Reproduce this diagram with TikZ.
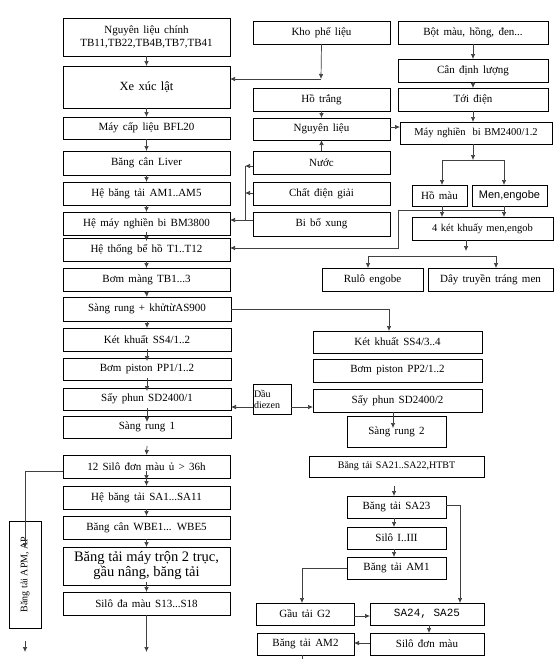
\documentclass[tikz,border=0pt]{standalone}
\usepackage{fontspec}
\setmainfont{Liberation Serif}
\setsansfont{Liberation Sans}
\setmonofont{Liberation Mono}
\usetikzlibrary{arrows.meta}
\newcommand\wspA{\spaceskip 4.3pt\relax}
\newcommand\wspB{\spaceskip 3.5pt\relax}
\tikzset{
  bx/.style={draw=black, line width=0.8pt, inner sep=1pt, outer sep=0pt, align=center,
             font={\fontsize{11}{12.5}\selectfont\wspA}},
  ln/.style={draw=black!75, line width=0.7pt},
  arr/.style={ln, -{Latex[length=5pt,width=4.5pt]}},
}
\newcommand\bx[7][]{\node[bx,#1,minimum width={(#5-#3)*1pt},minimum height={(#6-#4)*1pt}] (#2) at ({(#3+#5)/2},{(#4+#6)/2}) {#7};}
\begin{document}
\begin{tikzpicture}[x=1pt,y=-1pt]
\useasboundingbox (0,0) rectangle (555,659);
% left column
\bx{n1}{63}{18}{230}{56}{Nguyên liệu chính\\TB11,TB22,TB4B,TB7,TB41}
\bx[font={\fontsize{12.5}{14}\selectfont\wspA}]{xe}{63}{66}{230}{108}{Xe xúc lật}
\bx{bfl}{63}{117}{230}{139}{Máy cấp liệu BFL20}
\bx{liver}{63}{151}{230}{175}{Băng cân Liver}
\bx{amf}{63}{182}{230}{205}{Hệ băng tải AM1..AM5}
\bx{bmt}{63}{212}{230}{235}{Hệ máy nghiền bi BM3800}
\bx{beho}{63}{238}{230}{261}{Hệ thống bể hồ T1..T12}
\bx{tbm}{63}{268}{230}{291}{Bơm màng TB1...3}
\bx{sr}{63}{297}{231}{321}{Sàng rung + khửtừAS900}
\bx{ssa}{63}{328}{231}{351}{Két khuất SS4/1..2}
\bx{ppa}{63}{358}{231}{380}{Bơm piston PP1/1..2}
\bx{sda}{63}{388}{231}{410}{Sấy phun SD2400/1}
\bx{sra}{63}{416}{231}{438}{Sàng rung 1}
\bx{silo}{63}{455}{230}{478}{12 Silô đơn màu ủ > 36h}
\bx{saa}{63}{486}{230}{509}{Hệ băng tải SA1...SA11}
\bx{wbe}{63}{516}{230}{539}{Băng cân WBE1... WBE5}
\bx[font={\fontsize{14.5}{15}\selectfont}]{tron}{63}{547}{230}{585}{Băng tải máy trộn 2 trục,\\gầu nâng, băng tải}
\bx{sdm}{63}{592}{230}{615}{Silô đa màu S13...S18}
% middle column
\bx{kho}{253}{21}{390}{44}{Kho phế liệu}
\bx{hot}{253}{88}{390}{111}{Hồ trắng}
\bx{nl}{253}{118}{390}{140}{Nguyên liệu}
\bx{nuoc}{253}{151}{390}{174}{Nước}
\bx{cdg}{253}{182}{390}{205}{Chất điện giải}
\bx{bi}{253}{212}{390}{236}{Bi bổ xung}
% right column
\bx{bot}{398}{21}{548}{44}{Bột màu, hồng, đen...}
\bx{can}{398}{59}{548}{82}{Cân định lượng}
\bx{toi}{398}{88}{548}{111}{Tới điện}
\bx[font={\fontsize{10.5}{12}\selectfont\wspB}]{bmb}{400}{122}{552}{144}{Máy nghiền \ bi BM2400/1.2}
\bx{homau}{412}{185}{467}{206}{Hồ màu}
\bx[font={\sffamily\fontsize{11}{12}\selectfont}]{men}{472}{185}{547}{206}{Men,engobe}
\bx[font={\fontsize{10.5}{12}\selectfont\wspB}]{kk}{412}{217}{553}{240}{4 két khuấy men,engob}
\bx{rulo}{322}{268}{423}{291}{Rulô engobe}
\bx{day}{428}{268}{553}{291}{Dây truyền tráng men}
% lower middle
\bx{ssb}{313}{331}{482}{353}{Két khuất SS4/3..4}
\bx{ppb}{313}{359}{482}{382}{Bơm piston PP2/1..2}
\bx{sdb}{313}{389}{482}{412}{Sấy phun SD2400/2}
\node[draw=black, line width=0.8pt, inner sep=1pt, outer sep=0pt, align=left,
      font={\fontsize{10}{11}\selectfont}, text width=36pt, minimum height=30pt]
      (dau) at (272,399) {Dầu\\diezen};
\bx{srb}{347}{416}{446}{447}{Sàng rung 2}
\bx[font={\fontsize{10}{12}\selectfont\wspB}]{sab}{309}{456}{484}{477}{Băng tải SA21..SA22,HTBT}
\bx{sat}{347}{496}{446}{518}{Băng tải SA23}
\bx{sil}{347}{527}{446}{549}{Silô I..III}
\bx{amo}{347}{557}{446}{579}{Băng tải AM1}
\bx{gau}{256}{603}{354}{625}{Gầu tải G2}
\bx[font={\ttfamily\fontsize{11}{12}\selectfont}]{sas}{370}{603}{484}{625}{SA24, SA25}
\bx{sdon}{370}{633}{484}{655}{Silô đơn màu}
\bx{amt}{257}{633}{354}{655}{Băng tải AM2}
\node[bx, rotate=90, font={\fontsize{10}{11}\selectfont}, minimum width=107pt, minimum height=32pt]
      (apm) at (25,574.5) {Băng tải APM, AP};
% left column connectors
\draw[arr] (n1.south) -- (xe.north);
\draw[arr] (xe.south) -- (bfl.north);
\draw[arr] (bfl.south) -- (liver.north);
\draw[arr] (liver.south) -- (amf.north);
\draw[arr] (amf.south) -- (bmt.north);
\draw[arr] ([yshift=3pt]bmt.south) -- ([yshift=-3pt]beho.north);
\draw[arr] (beho.south) -- (tbm.north);
\draw[arr] (tbm.south) -- (sr.north);
\draw[arr] (sr.south) -- (ssa.north);
\draw[arr] ([yshift=2pt]ssa.south) -- ([yshift=-3pt]ppa.north);
\draw[arr] ([yshift=2pt]ppa.south) -- ([yshift=-3pt]sda.north);
\draw[arr] ([yshift=2pt]sda.south) -- ([yshift=-6pt]sra.north);
\draw[arr] ([yshift=-8pt]sra.south) -- (silo.north);
\draw[arr] ([yshift=7pt]silo.south) -- ([yshift=-2pt]silo.south);
\draw[arr] (silo.south) -- (saa.north);
\draw[arr] (saa.south) -- (wbe.north);
\draw[arr] (wbe.south) -- (tron.north);
\draw[arr] ([yshift=3pt]tron.south) -- (sdm.north);
\coordinate (p5) at (146.5,652);
\draw[arr] (sdm.south) -- (p5);
% APM branch
\coordinate (p1) at (25,471);
\coordinate (p2) at (25,548);
\draw[arr] (silo.west|-p1) -- (p1) -- (p2);
\coordinate (p3) at (25,641);
\coordinate (p4) at (25,652);
\draw[arr] (p3) -- (p4);
% Kho phe lieu
\coordinate (k1) at (321,79);
\draw[arr] (kho.south) -- (k1);
\draw[arr] (k1) -- (xe.east|-k1);
% middle column
\draw[arr] (hot.south) -- (nl.north);
\draw[arr] (nuoc.north) -- (nl.south);
\coordinate (b1) at (245,220);
\coordinate (b2) at (245,166);
\coordinate (b3) at (245,193);
\draw[arr] (bi.west|-b1) -- (bmt.east|-b1);
\draw[ln] (b1) -- (b2);
\draw[arr] (nuoc.west|-b2) -- (b2);
\draw[arr] (cdg.west|-b3) -- (b3);
\coordinate (m1) at (390,127);
\draw[arr] (m1) -- (bmb.west|-m1);
% right column
\draw[arr] (bot.south) -- (can.north);
\draw[arr] (can.south) -- (toi.north);
\coordinate (t0) at (473,111);
\coordinate (j1) at (473,160);
\draw[arr] (t0) -- (t0|-bmb.north);
\draw[arr] (j1|-bmb.south) -- (j1);
\coordinate (ja) at (442,160);
\coordinate (jb) at (504,160);
\draw[ln] (ja) -- (jb);
\draw[arr] (ja) -- (ja|-homau.north);
\draw[arr] (jb) -- (jb|-men.north);
\draw[arr] (ja|-homau.south) -- (ja|-kk.north);
\draw[arr] (jb|-men.south) -- (jb|-kk.north);
\coordinate (r1) at (504,210);
\coordinate (r2) at (398,210);
\coordinate (r3) at (398,248);
\draw[arr] (r1) -- (r2) -- (r3) -- (beho.east|-r3);
\coordinate (u0) at (466,251);
\coordinate (ua) at (368,256);
\coordinate (ub) at (496,256);
\draw[arr] (u0|-kk.south) -- (u0);
\draw[ln] (ua) -- (ub);
\draw[arr] (ua) -- (ua|-rulo.north);
\draw[arr] (ub) -- (ub|-day.north);
% lower middle
\coordinate (s1) at (389,309);
\draw[arr] (sr.east|-s1) -- (s1) -- (s1|-ssb.north);
\coordinate (d1) at (253,407);
\coordinate (d2) at (291,407);
\draw[arr] (d1) -- (sda.east|-d1);
\draw[arr] (d2) -- (sdb.west|-d2);
\coordinate (t1) at (393,428);
\draw[arr] (t1|-sdb.south) -- (t1);
\coordinate (v1) at (394,486);
\draw[arr] (v1) -- (v1|-sat.north);
\draw[arr] (v1|-sat.south) -- (v1|-sil.north);
\draw[arr] (v1|-sil.south) -- (v1|-amo.north);
\coordinate (q1) at (460,505);
\draw[arr] (sat.east|-q1) -- (q1) -- (q1|-sas.north);
\coordinate (q2) at (302,568);
\draw[arr] (amo.west|-q2) -- (q2) -- (q2|-gau.north);
\coordinate (q4) at (0,616);
\draw[arr] (gau.east|-q4) -- (sas.west|-q4);
\coordinate (q3) at (429,0);
\draw[arr] (q3|-sas.south) -- (q3|-sdon.north);
\coordinate (q5) at (0,643);
\draw[arr] (sdon.west|-q5) -- (amt.east|-q5);
\coordinate (q6) at (302,659);
\draw[ln] (q6|-amt.south) -- (q6);
\end{tikzpicture}
\end{document}
